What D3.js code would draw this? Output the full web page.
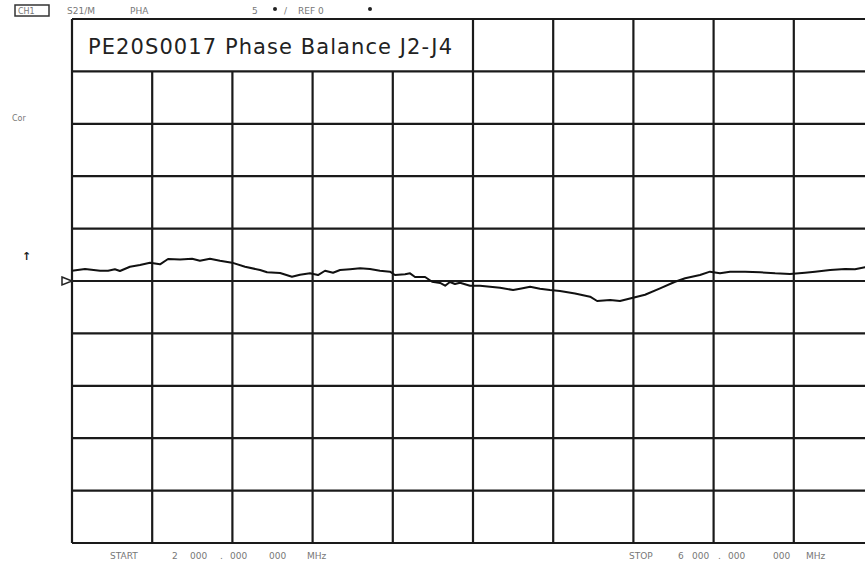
<!DOCTYPE html>
<html>
<head>
<meta charset="utf-8">
<script src="https://cdn.jsdelivr.net/npm/d3@7"></script>
<style>
  body { margin: 0; background: #fff; }
  svg { display: block; font-family: "DejaVu Sans", Verdana, sans-serif; }
</style>
</head>
<body>
<div id="chart"></div>
<script>
// Trace: frequency (MHz) vs phase (deg)
const freqMHz = [2000, 2065, 2140, 2180, 2214, 2239, 2289, 2339, 2389, 2439, 2479, 2539, 2599, 2638, 2688, 2738, 2798, 2863, 2938, 2973,
  3038, 3097, 3137, 3187, 3227, 3262, 3302, 3337, 3387, 3437, 3486, 3536, 3586, 3611, 3661, 3686, 3711, 3761, 3796, 3836,
  3861, 3885, 3910, 3935, 3985, 4035, 4085, 4135, 4200, 4235, 4285, 4334, 4384, 4434, 4509, 4584, 4619, 4684, 4733, 4798,
  4858, 4933, 5008, 5058, 5132, 5182, 5232, 5282, 5357, 5432, 5507, 5581, 5656, 5706, 5781, 5856, 5905, 5955, 6000];
const phaseDeg = [0.98, 1.14, 0.98, 0.98, 1.12, 0.95, 1.36, 1.53, 1.75, 1.59, 2.10, 2.05, 2.13, 1.94, 2.13, 1.94, 1.75, 1.36, 1.05, 0.83,
  0.76, 0.41, 0.60, 0.73, 0.57, 0.98, 0.79, 1.05, 1.12, 1.21, 1.14, 0.98, 0.89, 0.57, 0.64, 0.73, 0.38, 0.38, -0.07, -0.19,
  -0.45, -0.10, -0.29, -0.16, -0.45, -0.45, -0.54, -0.64, -0.86, -0.73, -0.54, -0.73, -0.86, -0.95, -1.19, -1.50, -1.91, -1.81, -1.91, -1.59,
  -1.31, -0.70, -0.07, 0.26, 0.57, 0.89, 0.73, 0.89, 0.89, 0.83, 0.73, 0.67, 0.79, 0.89, 1.05, 1.14, 1.12, 1.31, 1.38];

const title = "PE20S0017 Phase Balance J2-J4";
const headerLabels = ["S21/M", "PHA", "5", "/", "REF 0"];
const startLabels = ["START", "2", "000", ".", "000", "000", "MHz"];
const stopLabels = ["STOP", "6", "000", ".", "000", "000", "MHz"];

const width = 865, height = 563;
const svg = d3.select("#chart").append("svg")
  .attr("width", width).attr("height", height);

// 10 divisions each way, 400 MHz/div and 5 deg/div, ref 0 at centre
const x = d3.scaleLinear().domain([2000, 6000]).range([72, 874]);
const y = d3.scaleLinear().domain([-25, 25]).range([543, 19]);

const xTicks = d3.range(2000, 6001, 400);
const yTicks = d3.range(-25, 26, 5);

const grid = svg.append("g").attr("stroke", "#1a1a1a").attr("stroke-width", 2.2);

grid.selectAll(".h").data(yTicks).join("line")
  .attr("x1", x(2000)).attr("x2", x(6000))
  .attr("y1", d => y(d)).attr("y2", d => y(d));

// title box spans the first five columns of the top row
grid.selectAll(".v").data(xTicks).join("line")
  .attr("x1", d => x(d)).attr("x2", d => x(d))
  .attr("y1", d => (d > 2000 && d < 4000) ? y(20) : y(25))
  .attr("y2", y(-25));

svg.append("text")
  .attr("x", x(2000) + 16).attr("y", y(22) + 4)
  .attr("font-size", 21).attr("fill", "#222")
  .attr("textLength", 364).attr("lengthAdjust", "spacing")
  .text(title);

// trace
const line = d3.line().x(d => x(d[0])).y(d => y(d[1]));
svg.append("path")
  .datum(d3.zip(freqMHz, phaseDeg))
  .attr("fill", "none").attr("stroke", "#111").attr("stroke-width", 2)
  .attr("stroke-linejoin", "round")
  .attr("d", line);

// reference marker
svg.append("path")
  .attr("d", `M${x(2000) - 10},${y(0) - 4} L${x(2000)},${y(0)} L${x(2000) - 10},${y(0) + 4} Z`)
  .attr("fill", "#fff").attr("stroke", "#222").attr("stroke-width", 1.5);

// small annotation text
const small = svg.append("g").attr("font-size", 9).attr("fill", "#777");

svg.append("rect").attr("x", 15).attr("y", 5).attr("width", 34).attr("height", 11)
  .attr("fill", "none").attr("stroke", "#333").attr("stroke-width", 1.5);
small.append("text").attr("x", 18).attr("y", 14).attr("font-size", 8).text("CH1");

const headerX = [67, 130, 252, 284, 298];
small.selectAll(".hdr").data(headerLabels).join("text")
  .attr("x", (d, i) => headerX[i]).attr("y", 14).text(d => d);
small.selectAll(".dot").data([275, 370]).join("circle")
  .attr("cx", d => d).attr("cy", 9).attr("r", 2).attr("fill", "#222");

small.append("text").attr("x", 12).attr("y", 121).attr("font-size", 8).text("Cor");
small.append("text").attr("x", 22).attr("y", 260).attr("font-size", 11).attr("fill", "#222")
  .attr("font-weight", "bold").text("↑");

const startX = [110, 172, 190, 220, 230, 269, 307];
const stopX = [629, 678, 692, 718, 728, 773, 806];
small.selectAll(".st").data(startLabels).join("text")
  .attr("x", (d, i) => startX[i]).attr("y", 559).text(d => d);
small.selectAll(".sp").data(stopLabels).join("text")
  .attr("x", (d, i) => stopX[i]).attr("y", 559).text(d => d);
</script>
</body>
</html>
